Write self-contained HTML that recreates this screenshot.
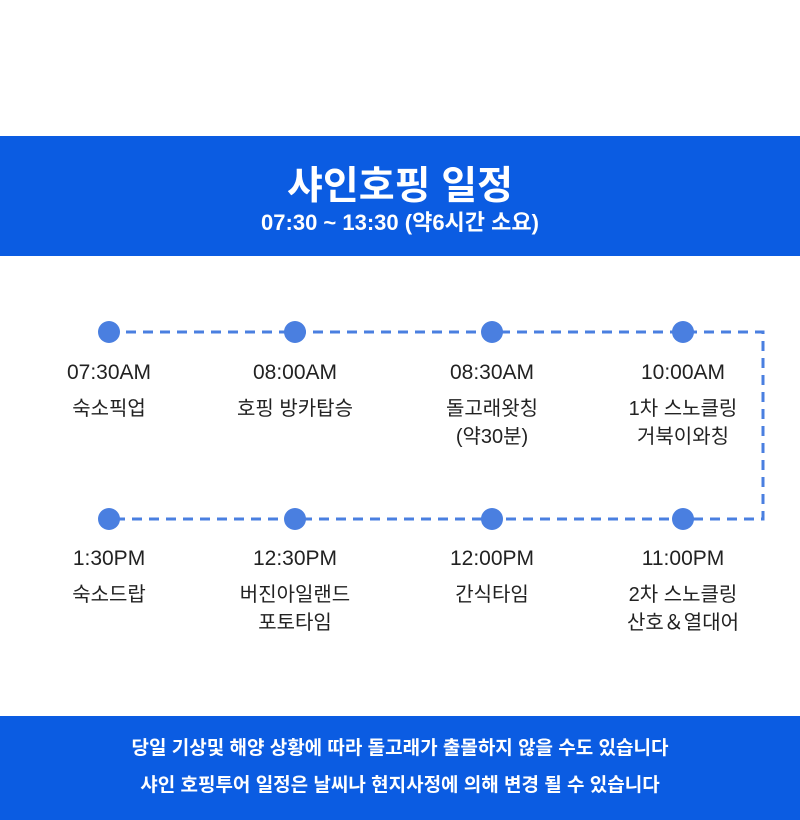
<!DOCTYPE html>
<html><head><meta charset="utf-8"><style>
body{margin:0;width:800px;height:820px;background:#fff;position:relative;overflow:hidden;font-family:"Liberation Sans","Noto Sans CJK KR",sans-serif;color:#222}
.band{position:absolute;left:0;width:800px;background:#0b5ce2;color:#fff;text-align:center}
.t{position:absolute;width:200px;text-align:center;font-size:20px;line-height:28px}
.t b{font-weight:normal;font-size:21px;display:block}
</style></head><body>
<div class="band" style="top:136px;height:120px">
<div style="position:absolute;top:27px;width:800px;font-size:39px;font-weight:bold;line-height:48px">샤인호핑 일정</div>
<div style="position:absolute;top:73px;width:800px;font-size:22px;font-weight:bold;line-height:28px">07:30 ~ 13:30 (약6시간 소요)</div>
</div>
<svg style="position:absolute;left:0;top:0" width="800" height="820">
<path d="M109 332 H763 V519 H109" fill="none" stroke="#4a7fe0" stroke-width="3" stroke-dasharray="10 7"/>
<g fill="#4a7fe0">
<circle cx="109" cy="332" r="11"/><circle cx="295" cy="332" r="11"/><circle cx="492" cy="332" r="11"/><circle cx="683" cy="332" r="11"/>
<circle cx="109" cy="519" r="11"/><circle cx="295" cy="519" r="11"/><circle cx="492" cy="519" r="11"/><circle cx="683" cy="519" r="11"/>
</g></svg>
<div class="t" style="left:9px;top:359px"><b>07:30AM</b><span style="display:block;margin-top:8px">숙소픽업</span></div>
<div class="t" style="left:195px;top:359px"><b>08:00AM</b><span style="display:block;margin-top:8px">호핑 방카탑승</span></div>
<div class="t" style="left:392px;top:359px"><b>08:30AM</b><span style="display:block;margin-top:8px">돌고래왓칭<br>(약30분)</span></div>
<div class="t" style="left:583px;top:359px"><b>10:00AM</b><span style="display:block;margin-top:8px">1차 스노클링<br>거북이와칭</span></div>
<div class="t" style="left:9px;top:545px"><b>1:30PM</b><span style="display:block;margin-top:8px">숙소드랍</span></div>
<div class="t" style="left:195px;top:545px"><b>12:30PM</b><span style="display:block;margin-top:8px">버진아일랜드<br>포토타임</span></div>
<div class="t" style="left:392px;top:545px"><b>12:00PM</b><span style="display:block;margin-top:8px">간식타임</span></div>
<div class="t" style="left:583px;top:545px"><b>11:00PM</b><span style="display:block;margin-top:8px">2차 스노클링<br>산호＆열대어</span></div>
<div class="band" style="top:716px;height:104px;font-size:19px;font-weight:bold">
<div style="position:absolute;top:21px;width:800px;line-height:24px">당일 기상및 해양 상황에 따라 돌고래가 출몰하지 않을 수도 있습니다</div>
<div style="position:absolute;top:58px;width:800px;line-height:24px">샤인 호핑투어 일정은 날씨나 현지사정에 의해 변경 될 수 있습니다</div>
</div>
</body></html>
